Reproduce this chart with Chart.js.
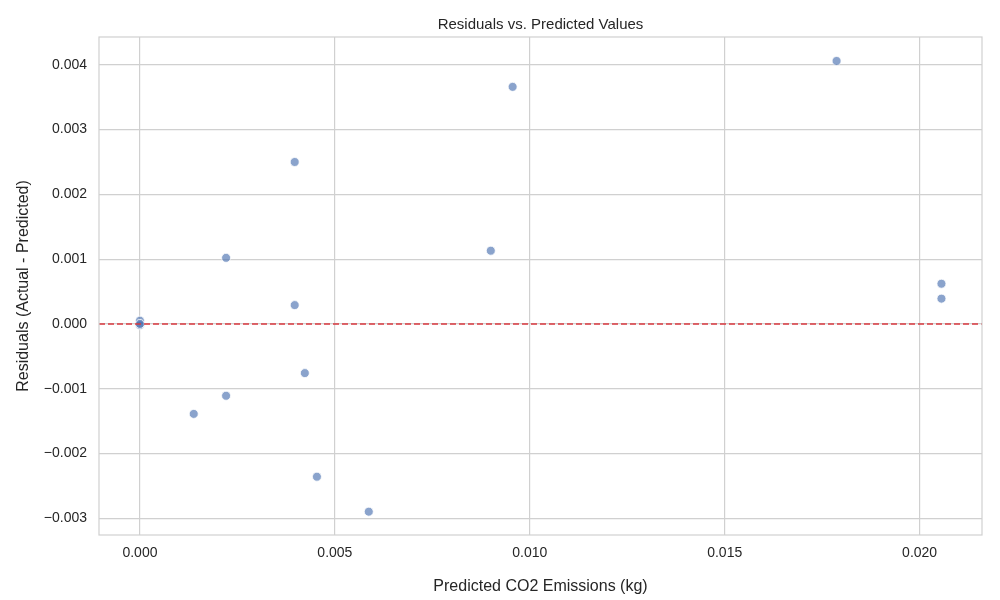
<!DOCTYPE html>
<html><head><meta charset="utf-8">
<script src="https://cdn.jsdelivr.net/npm/chart.js@4/dist/chart.umd.min.js"></script>
<style>html,body{margin:0;background:#fff}#w{width:1000px;height:600px}</style>
</head><body><div id="w"><canvas id="c"></canvas></div>
<script>
const predicted = [0, 0, 0, 0.00138, 0.00221, 0.00221, 0.00397, 0.00397, 0.00423, 0.00454, 0.00587, 0.0090, 0.00956, 0.01787, 0.02056, 0.02056];
const residuals = [0.00005, -0.00002, 0, -0.00139, 0.00102, -0.00111, 0.0025, 0.00029, -0.00076, -0.00236, -0.0029, 0.00113, 0.00366, 0.00406, 0.00062, 0.00039];
const xRange = [-0.00105, 0.0216];
const yRange = [-0.00326, 0.00443];

const txt = '#262626', grid = '#d0d0d0', font = 'Liberation Sans';
const fmt = (v) => v.toFixed(3).replace('-', '\u2212');

const titlePlugin = {
  id: 'ttl',
  afterDraw(c) {
    const { ctx, chartArea: a } = c;
    ctx.save();
    ctx.fillStyle = txt; ctx.font = `15px "${font}"`; ctx.textAlign = 'center'; ctx.textBaseline = 'bottom';
    ctx.fillText('Residuals vs. Predicted Values', (a.left + a.right) / 2, a.top - 5);
    ctx.strokeStyle = grid; ctx.lineWidth = 1.2;
    ctx.strokeRect(a.left, a.top, a.right - a.left, a.bottom - a.top);
    ctx.restore();
  },
};

new Chart(document.getElementById('c'), {
  type: 'scatter',
  data: {
    datasets: [
      { data: predicted.map((x, i) => ({ x, y: residuals[i] })), backgroundColor: 'rgba(76,114,176,0.65)',
        borderColor: '#fff', borderWidth: 0.8, pointRadius: 4.5, order: 1 },
      { type: 'line', data: xRange.map((x) => ({ x, y: 0 })), borderColor: '#d9383f', borderWidth: 1.5,
        borderDash: [6, 3], pointRadius: 0, order: 0 },
    ],
  },
  options: {
    responsive: true, maintainAspectRatio: false, animation: false,
    layout: { padding: { top: 37, right: 18, left: 10, bottom: 0 } },
    plugins: { legend: { display: false }, tooltip: { enabled: false } },
    scales: {
      x: { type: 'linear', min: xRange[0], max: xRange[1],
        afterBuildTicks: (s) => { s.ticks = [0, 0.005, 0.01, 0.015, 0.02].map((v) => ({ value: v })); },
        afterFit: (s) => { s.height = 65; },
        ticks: { color: txt, font: { family: font, size: 14 }, callback: fmt, maxRotation: 0, padding: 10 },
        grid: { color: grid, lineWidth: 1.2, drawTicks: false }, border: { display: false },
        title: { display: true, text: 'Predicted CO2 Emissions (kg)', color: txt, font: { family: font, size: 16 }, padding: { top: 6 } } },
      y: { min: yRange[0], max: yRange[1],
        afterBuildTicks: (s) => { s.ticks = [-0.003, -0.002, -0.001, 0, 0.001, 0.002, 0.003, 0.004].map((v) => ({ value: v })); },
        afterFit: (s) => { s.width = 89; },
        ticks: { color: txt, font: { family: font, size: 14 }, callback: fmt, padding: 12 },
        grid: { color: grid, lineWidth: 1.2, drawTicks: false }, border: { display: false },
        title: { display: true, text: 'Residuals (Actual - Predicted)', color: txt, font: { family: font, size: 16 } } },
    },
  },
  plugins: [titlePlugin],
});
</script></body></html>
